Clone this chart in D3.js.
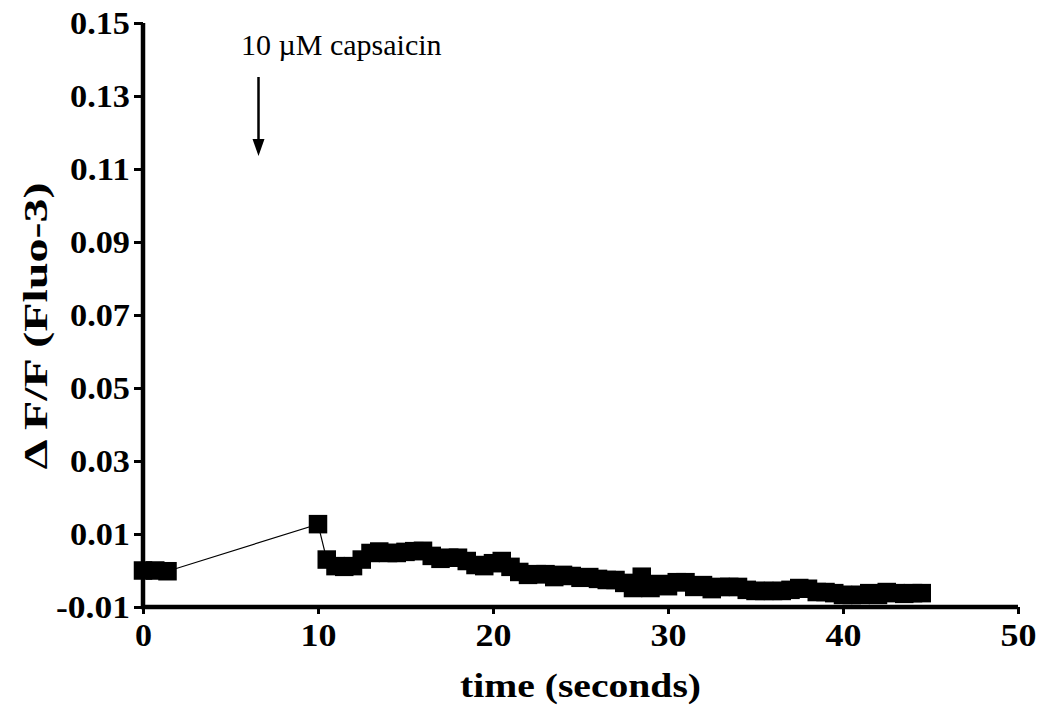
<!DOCTYPE html>
<html>
<head>
<meta charset="utf-8">
<script src="https://cdn.jsdelivr.net/npm/d3@7"></script>
<style>
  html, body { margin: 0; padding: 0; background: #fff; }
  svg { display: block; }
</style>
</head>
<body>
<script>
// ---- data ----
const timeSeconds = [
  0, 0.7, 1.4,
  10.0, 10.5, 11.0, 11.5, 12.0, 12.5, 13.0, 13.5, 14.0, 14.5, 15.0, 15.5, 16.0,
  16.5, 17.0, 17.5, 18.0, 18.5, 19.0, 19.5, 20.0, 20.5, 21.0, 21.5, 22.0, 22.5,
  23.0, 23.5, 24.0, 24.5, 25.0, 25.5, 26.0, 26.5, 27.0, 27.5, 28.0, 28.5, 29.0,
  29.5, 30.0, 30.5, 31.0, 31.5, 32.0, 32.5, 33.0, 33.5, 34.0, 34.5, 35.0, 35.5,
  36.0, 36.5, 37.0, 37.5, 38.0, 38.5, 39.0, 39.5, 40.0, 40.5, 41.0, 41.5, 42.0,
  42.5, 43.0, 43.5, 44.0, 44.5
];
const deltaFF = [
  0.0000, 0.0000, -0.0002,
  0.0127, 0.0030, 0.0012, 0.0010, 0.0012, 0.0030, 0.0048, 0.0052, 0.0048, 0.0048, 0.0051, 0.0053, 0.0054,
  0.0040, 0.0032, 0.0035, 0.0035, 0.0026, 0.0015, 0.0012, 0.0020, 0.0026, 0.0010, -0.0004, -0.0012, -0.0010,
  -0.0010, -0.0018, -0.0012, -0.0015, -0.0020, -0.0018, -0.0023, -0.0026, -0.0026, -0.0034, -0.0048, -0.0017, -0.0048,
  -0.0037, -0.0043, -0.0032, -0.0032, -0.0045, -0.0040, -0.0051, -0.0045, -0.0045, -0.0045, -0.0053, -0.0056, -0.0056,
  -0.0056, -0.0056, -0.0053, -0.0048, -0.0050, -0.0059, -0.0059, -0.0062, -0.0067, -0.0067, -0.0067, -0.0062, -0.0067,
  -0.0059, -0.0062, -0.0064, -0.0062, -0.0062
];
const xTicks = [0, 10, 20, 30, 40, 50];
const yTicks = [-0.01, 0.01, 0.03, 0.05, 0.07, 0.09, 0.11, 0.13, 0.15];
const xTitle = "time (seconds)";
const yTitle = "\u0394 F/F (Fluo-3)";
const annotationText = "10 \u00b5M capsaicin";
const annotationTime = 6.6;

(function () {
const W = 1039, H = 709;
const mLeft = 143, mRight = 1018, mTop = 23, mBottom = 607;
const FONT = "Liberation Serif";

const svg = d3.select("body").append("svg").attr("width", W).attr("height", H);

const x = d3.scaleLinear().domain([0, 50]).range([mLeft, mRight]);
const y = d3.scaleLinear().domain([-0.01, 0.15]).range([mBottom, mTop]);

const locale = d3.formatLocale({ decimal: ".", thousands: ",", grouping: [3], currency: ["", ""], minus: "-" });
const fmtY = locale.format(".2f");

// x axis
const xAxis = svg.append("g").attr("transform", `translate(0,${mBottom})`)
  .call(d3.axisBottom(x).tickValues(xTicks).tickFormat(d3.format("d")).tickSize(7).tickPadding(9));
xAxis.attr("font-family", FONT).attr("font-size", 32).attr("font-weight", "bold");
xAxis.select(".domain").attr("stroke", "#000").attr("stroke-width", 4.5).attr("d", `M${mLeft - 2},0H${mRight}`);
xAxis.selectAll(".tick line").attr("stroke", "#000").attr("stroke-width", 3);
xAxis.selectAll(".tick text").attr("fill", "#000").attr("dy", "0.72em")
  .attr("textLength", d => d === 0 ? 17 : 36).attr("lengthAdjust", "spacingAndGlyphs");

// y axis
const yAxis = svg.append("g").attr("transform", `translate(${mLeft},0)`)
  .call(d3.axisLeft(y).tickValues(yTicks).tickFormat(fmtY).tickSize(9).tickPadding(4));
yAxis.attr("font-family", FONT).attr("font-size", 31).attr("font-weight", "bold");
yAxis.select(".domain").attr("stroke", "#000").attr("stroke-width", 4.5).attr("d", `M0,${mBottom + 2}V${mTop}`);
yAxis.selectAll(".tick line").attr("stroke", "#000").attr("stroke-width", 3);
yAxis.selectAll(".tick text").attr("fill", "#000").attr("dy", "0.34em")
  .attr("textLength", d => d < 0 ? 74 : 60)
  .attr("lengthAdjust", "spacingAndGlyphs");

// data line + squares
const pts = timeSeconds.map((t, i) => [t, deltaFF[i]]);
svg.append("path")
  .datum(pts)
  .attr("fill", "none").attr("stroke", "#000").attr("stroke-width", 1.2)
  .attr("d", d3.line().x(d => x(d[0])).y(d => y(d[1])));

const sq = 18.5;
svg.append("g").selectAll("rect").data(pts).join("rect")
  .attr("x", d => x(d[0]) - sq / 2)
  .attr("y", d => y(d[1]) - sq / 2)
  .attr("width", sq).attr("height", sq)
  .attr("fill", "#000");

// axis titles
svg.append("text")
  .attr("x", (mLeft + mRight) / 2).attr("y", 697)
  .attr("text-anchor", "middle")
  .attr("font-family", FONT).attr("font-weight", "bold").attr("font-size", 34)
  .attr("textLength", 241).attr("lengthAdjust", "spacingAndGlyphs")
  .text(xTitle);

svg.append("text")
  .attr("transform", `translate(47,326) rotate(-90)`)
  .attr("text-anchor", "middle")
  .attr("font-family", FONT).attr("font-weight", "bold").attr("font-size", 34)
  .attr("textLength", 287).attr("lengthAdjust", "spacingAndGlyphs")
  .text(yTitle);

// annotation
svg.append("text")
  .attr("x", 241).attr("y", 55)
  .attr("font-family", FONT).attr("font-size", 30)
  .text(annotationText);

const ax = x(annotationTime);
svg.append("line")
  .attr("x1", ax).attr("x2", ax).attr("y1", 77).attr("y2", 142)
  .attr("stroke", "#000").attr("stroke-width", 2.5);
svg.append("path")
  .attr("d", `M${ax - 6},139L${ax + 6},139L${ax},156Z`)
  .attr("fill", "#000");
})();
</script>
</body>
</html>
